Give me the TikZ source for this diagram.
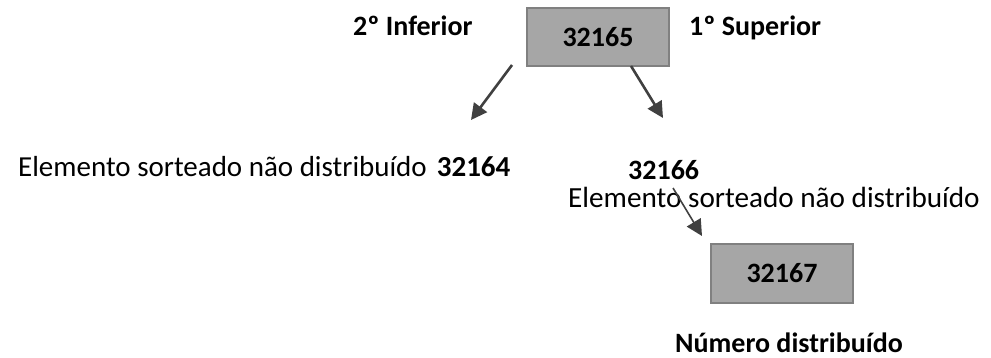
\documentclass[tikz,border=0pt]{standalone}
\usepackage{fontspec}
\setmainfont{Carlito}
\usetikzlibrary{arrows.meta}
\definecolor{boxfill}{HTML}{A6A6A6}
\definecolor{boxline}{HTML}{808080}
\definecolor{arrowcol}{HTML}{404040}
\tikzset{
  numbox/.style={draw=boxline, fill=boxfill, line width=2pt, minimum width=142pt, minimum height=58pt, inner sep=0pt, font=\fontsize{28}{30}\selectfont\bfseries},
  lbl/.style={inner sep=0pt, font=\fontsize{29.2}{32}\selectfont},
  blbl/.style={inner sep=0pt, font=\fontsize{28}{30}\selectfont\bfseries},
  arr/.style={draw=arrowcol, line width=2.6pt, -{Triangle[length=16pt, width=16pt]}}
}
\begin{document}
\begin{tikzpicture}[x=1pt, y=-1pt]
\useasboundingbox (0,0) rectangle (991,358);
\node[numbox] (b1) at (598,37) {32165};
\node[blbl, anchor=base west] (inf) at (353,36) {2º Inferior};
\node[blbl, anchor=base west] (sup) at (689,36) {1º Superior};
\node[lbl, anchor=base west, font=\fontsize{29}{32}\selectfont] (left) at (18,177) {Elemento sorteado não distribuído\hspace{10pt}\textbf{\fontsize{29}{30}\selectfont 32164}};
\node[blbl, anchor=base west] (n66) at (628,180) {32166};
\node[lbl, anchor=base west] (right) at (568,208) {Elemento sorteado não distribuído};
\node[numbox] (b2) at (782,273.5) {32167};
\node[blbl, anchor=base] (nd) at (789,352) {Número distribuído};
\coordinate (s1) at (512,65);
\coordinate (e1) at (471,120);
\coordinate (s2) at (631,66);
\coordinate (e2) at (663,118);
\coordinate (s3) at (673,188);
\coordinate (e3) at (702,236);
\draw[arr] (s1) -- (e1);
\draw[arr] (s2) -- (e2);
\draw[arr, line width=1.6pt] (s3) -- (e3);
\end{tikzpicture}
\end{document}
